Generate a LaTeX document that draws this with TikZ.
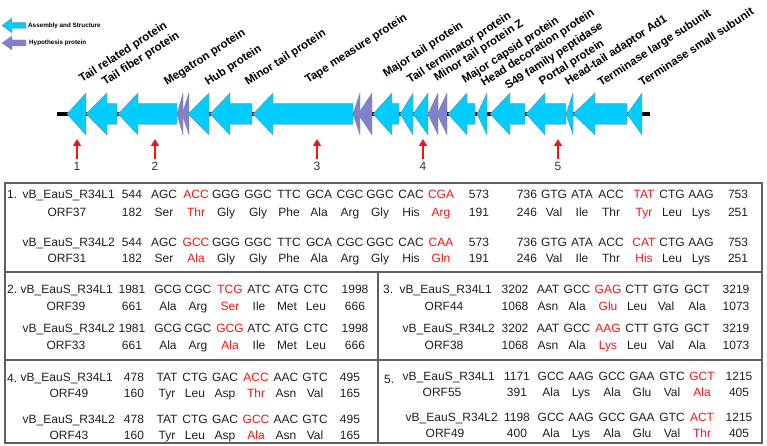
\documentclass[tikz,border=0pt]{standalone}
\usepackage{fontspec}
\setmainfont{Liberation Sans}
\usepackage{tikz}
\usetikzlibrary{arrows.meta}

\definecolor{genecyan}{RGB}{0,204,255}
\definecolor{geneviolet}{RGB}{128,128,204}
\definecolor{snpred}{RGB}{236,22,22}
\definecolor{boxgray}{RGB}{95,95,95}

% gene arrow: tip x, head base x, end x, fill colour
\newcommand{\gene}[4]{%
  \filldraw[gene, fill=#4] (#1,114) -- (#2,93) -- (#2,103.5) -- (#3,103.5)
    -- (#3,124.5) -- (#2,124.5) -- (#2,135) -- cycle;}

\begin{document}
\begin{tikzpicture}[x=1pt, y=-1pt,
  >={Triangle[length=7pt,width=8pt]},
  gene/.style  ={draw=black!45, line width=.4pt},
  gname/.style ={anchor=base west, inner sep=0pt, rotate=33,
                 font=\fontsize{11.5}{13}\selectfont\bfseries},
  legtxt/.style={anchor=west, inner sep=0pt,
                 font=\fontsize{6.3}{7}\selectfont\bfseries},
  sitenum/.style={inner sep=0pt, font=\fontsize{12}{14}\selectfont, text=black!80},
  snparrow/.style={->, line width=2.2pt, draw=snpred, shorten <=3pt},
  seq/.style   ={anchor=base, inner sep=0pt, font=\fontsize{12}{14}\selectfont,
                 text=black!88},
  snp/.style   ={seq, text=snpred},
  tag/.style   ={seq, anchor=base east},
  idx/.style   ={seq, anchor=base west},
  frame/.style ={draw=boxgray, line width=1.2pt}]

  \useasboundingbox (0,0) rectangle (767,446);

  % --- legend ------------------------------------------------------------
  \filldraw[gene, fill=genecyan] (2,25.5) -- (12,18) -- (12,22.5) -- (26,22.5)
    -- (26,28.5) -- (12,28.5) -- (12,33) -- cycle;
  \filldraw[gene, fill=geneviolet] (2,43) -- (12,36) -- (12,40) -- (26,40)
    -- (26,46) -- (12,46) -- (12,50) -- cycle;
  \node[legtxt] (leg1) at (28,25.5) {Assembly and Structure};
  \node[legtxt] (leg2) at (29,43) {Hypothesis protein};

  % --- genome map --------------------------------------------------------
  \draw[line width=4.5pt] (57,114) -- (650,114);
  \gene{67}{86}{86}{genecyan}
  \gene{86}{107}{117}{genecyan}
  \gene{118}{138}{177}{genecyan}
  \gene{177}{183}{183}{geneviolet}
  \gene{182}{189}{189}{geneviolet}
  \gene{188}{209}{209}{genecyan}
  \gene{210}{230}{252}{genecyan}
  \gene{253}{273}{353}{genecyan}
  \gene{353}{360}{360}{geneviolet}
  \gene{358}{372}{372}{geneviolet}
  \gene{373}{392}{399}{genecyan}
  \gene{400}{413}{413}{genecyan}
  \gene{413}{428}{428}{genecyan}
  \gene{428}{438}{438}{geneviolet}
  \gene{437}{447}{447}{geneviolet}
  \gene{448}{467}{475}{genecyan}
  \gene{477}{487}{487}{genecyan}
  \gene{490}{510}{525}{genecyan}
  \gene{526}{545}{566}{genecyan}
  \gene{566}{573}{573}{genecyan}
  \gene{573}{595}{627}{genecyan}
  \gene{627}{642}{642}{genecyan}

  % gene names
  \foreach \x/\y/\t [count=\i] in {82/83/Tail related protein,
      105/86/Tail fiber protein, 167/86/Megatron protein, 208/86/Hub protein,
      248/86/Minor tail protein, 308/84/Tape measure protein,
      386/78/Major tail protein, 410/84/Tail terminator protein,
      437/82/Minor tail protein Z, 465/84/Major capsid protein,
      484/87/Head decoration protein, 508/90/S49 family peptidase,
      542/86/Portal protein, 568/86/Head-tail adaptor Ad1,
      601/87/Terminase large subunit, 642/87/Terminase small subunit}
    \node[gname] (g\i) at (\x,\y) {\t};

  % mutation sites
  \foreach \x [count=\i] in {77,155,317,423,558} {
    \node[sitenum] (m\i) at (\x,166) {\i};
    \coordinate (t\i) at (\x,139);
    \draw[snparrow] (m\i.north) -- (t\i);
  }

  % --- table frame -------------------------------------------------------
  \draw[frame] (5,183) rectangle (762,443);
  \draw[frame] (5,272) -- (762,272);
  \draw[frame] (5,360) -- (762,360);
  \draw[frame] (378,272) -- (378,443);

  % --- site 1 ------------------------------------------------------------
  \node[idx] (n1) at (7,199) {1.};
  \node[tag] (l1a) at (115,199) {vB\_EauS\_R34L1};
  \node[seq] (o1a) at (67,216) {ORF37};
  \node[tag] (l1b) at (115,246) {vB\_EauS\_R34L2};
  \node[seq] (o1b) at (67,262) {ORF31};
  \foreach \x/\ca/\aa/\cb/\ab/\s [count=\i] in {132/544/182/544/182/seq,
      164/AGC/Ser/AGC/Ser/seq, 196/ACC/Thr/GCC/Ala/snp, 226/GGG/Gly/GGG/Gly/seq,
      258/GGC/Gly/GGC/Gly/seq, 289/TTC/Phe/TTC/Phe/seq, 319/GCA/Ala/GCA/Ala/seq,
      350/CGC/Arg/CGC/Arg/seq, 380/GGC/Gly/GGC/Gly/seq, 411/CAC/His/CAC/His/seq,
      441/CGA/Arg/CAA/Gln/snp, 479/573/191/573/191/seq,
      527/736/246/736/246/seq, 554/GTG/Val/GTG/Val/seq, 582/ATA/Ile/ATA/Ile/seq,
      611/ACC/Thr/ACC/Thr/seq, 644/TAT/Tyr/CAT/His/snp, 672/CTG/Leu/CTG/Leu/seq,
      701/AAG/Lys/AAG/Lys/seq, 738/753/251/753/251/seq} {
    \node[\s] (s1a\i) at (\x,199) {\ca};
    \node[\s] (s1b\i) at (\x,216) {\aa};
    \node[\s] (s1c\i) at (\x,246) {\cb};
    \node[\s] (s1d\i) at (\x,262) {\ab};
  }

  % --- site 2 ------------------------------------------------------------
  \node[idx] (n2) at (7,293) {2.};
  \node[tag] (l2a) at (113,293) {vB\_EauS\_R34L1};
  \node[seq] (o2a) at (66,310) {ORF39};
  \node[tag] (l2b) at (115,332) {vB\_EauS\_R34L2};
  \node[seq] (o2b) at (66,349) {ORF33};
  \foreach \x/\ca/\aa/\cb/\ab/\s [count=\i] in {132/1981/661/1981/661/seq,
      168/GCG/Ala/GCG/Ala/seq, 198/CGC/Arg/CGC/Arg/seq, 230/TCG/Ser/GCG/Ala/snp,
      259/ATC/Ile/ATC/Ile/seq, 287/ATG/Met/ATG/Met/seq, 316/CTC/Leu/CTC/Leu/seq,
      355/1998/666/1998/666/seq} {
    \node[\s] (s2a\i) at (\x,293) {\ca};
    \node[\s] (s2b\i) at (\x,310) {\aa};
    \node[\s] (s2c\i) at (\x,332) {\cb};
    \node[\s] (s2d\i) at (\x,349) {\ab};
  }

  % --- site 3 ------------------------------------------------------------
  \node[idx] (n3) at (383,293) {3.};
  \node[tag] (l3a) at (492,293) {vB\_EauS\_R34L1};
  \node[seq] (o3a) at (444,310) {ORF44};
  \node[tag] (l3b) at (495,332) {vB\_EauS\_R34L2};
  \node[seq] (o3b) at (444,349) {ORF38};
  \foreach \x/\ca/\aa/\cb/\ab/\s [count=\i] in {515/3202/1068/3202/1068/seq,
      548/AAT/Asn/AAT/Asn/seq, 577/GCC/Ala/GCC/Ala/seq, 608/GAG/Glu/AAG/Lys/snp,
      637/CTT/Leu/CTT/Leu/seq, 666/GTG/Val/GTG/Val/seq, 697/GCT/Ala/GCT/Ala/seq,
      736/3219/1073/3219/1073/seq} {
    \node[\s] (s3a\i) at (\x,293) {\ca};
    \node[\s] (s3b\i) at (\x,310) {\aa};
    \node[\s] (s3c\i) at (\x,332) {\cb};
    \node[\s] (s3d\i) at (\x,349) {\ab};
  }

  % --- site 4 ------------------------------------------------------------
  \node[idx] (n4) at (7,382) {4.};
  \node[tag] (l4a) at (113,381) {vB\_EauS\_R34L1};
  \node[seq] (o4a) at (69,397) {ORF49};
  \node[tag] (l4b) at (115,423) {vB\_EauS\_R34L2};
  \node[seq] (o4b) at (69,439) {ORF43};
  \foreach \x/\ca/\aa/\cb/\ab/\s [count=\i] in {134/478/160/478/160/seq,
      167/TAT/Tyr/TAT/Tyr/seq, 195/CTG/Leu/CTG/Leu/seq, 225/GAC/Asp/GAC/Asp/seq,
      256/ACC/Thr/GCC/Ala/snp, 286/AAC/Asn/AAC/Asn/seq, 315/GTC/Val/GTC/Val/seq,
      350/495/165/495/165/seq} {
    \node[\s] (s4a\i) at (\x,381) {\ca};
    \node[\s] (s4b\i) at (\x,397) {\aa};
    \node[\s] (s4c\i) at (\x,423) {\cb};
    \node[\s] (s4d\i) at (\x,439) {\ab};
  }

  % --- site 5 ------------------------------------------------------------
  \node[idx] (n5) at (384,383) {5.};
  \node[tag] (l5a) at (495,380) {vB\_EauS\_R34L1};
  \node[seq] (o5a) at (442,396) {ORF55};
  \node[tag] (l5b) at (498,421) {vB\_EauS\_R34L2};
  \node[seq] (o5b) at (445,437) {ORF49};
  \foreach \x/\ca/\aa/\cb/\ab/\s [count=\i] in {517/1171/391/1198/400/seq,
      551/GCC/Ala/GCC/Ala/seq, 581/AAG/Lys/AAG/Lys/seq, 612/GCC/Ala/GCC/Ala/seq,
      642/GAA/Glu/GAA/Glu/seq, 672/GTC/Val/GTC/Val/seq, 702/GCT/Ala/ACT/Thr/snp,
      739/1215/405/1215/405/seq} {
    \node[\s] (s5a\i) at (\x,380) {\ca};
    \node[\s] (s5b\i) at (\x,396) {\aa};
    \node[\s] (s5c\i) at (\x,421) {\cb};
    \node[\s] (s5d\i) at (\x,437) {\ab};
  }
\end{tikzpicture}
\end{document}
